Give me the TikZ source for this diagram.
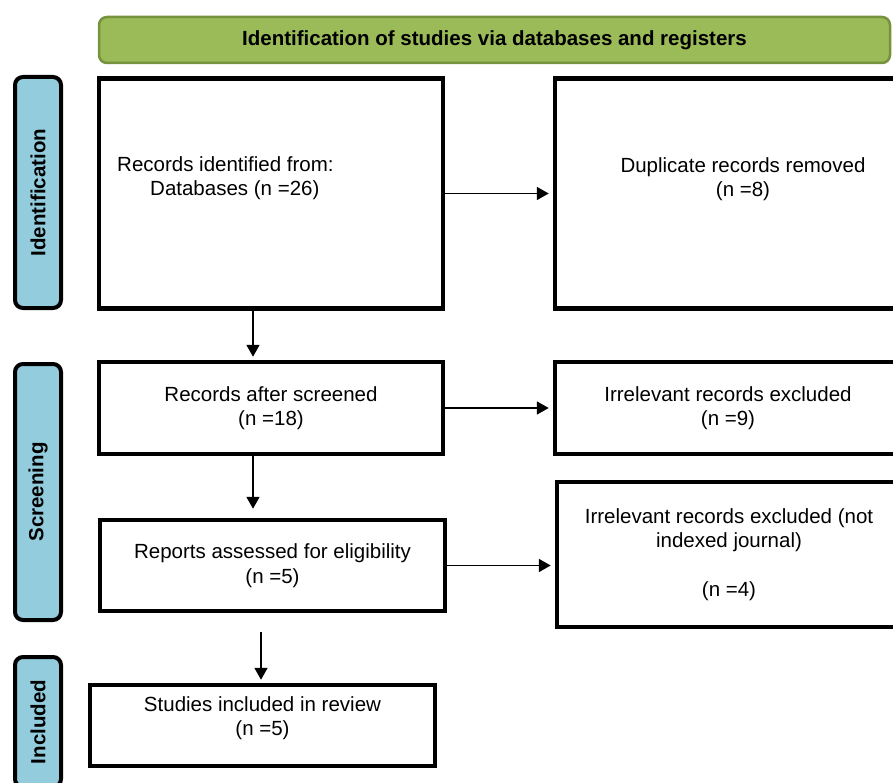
\documentclass[tikz,border=0pt]{standalone}
\usepackage{fontspec}
\setmainfont{Liberation Sans}
\usetikzlibrary{arrows.meta}

\definecolor{bannergreen}{HTML}{9BBB59}
\definecolor{bannerline}{HTML}{76923C}
\definecolor{phaseblue}{HTML}{93CDDD}

\begin{document}
\begin{tikzpicture}[x=1pt, y=-1pt,
    every node/.style={font=\fontsize{20.5}{24.5}\selectfont},
    box/.style={draw, line width=4.5pt, fill=white, inner sep=0pt},
    phase/.style={draw, line width=4pt, rounded corners=8pt, fill=phaseblue,
        inner sep=0pt, rotate=90, minimum height=46pt, font=\fontsize{20.5}{24.5}\selectfont\bfseries},
    flow/.style={line width=1.8pt, -{Triangle[length=12pt,width=13pt]}}]

    % Page size, matched to the provided image
    \useasboundingbox (0,0) rectangle (893,783);
    \clip (0,0) rectangle (893,783);

    % Banner across the top
    \node[draw=bannerline, line width=2.5pt, rounded corners=8pt, fill=bannergreen,
        minimum width=791pt, minimum height=46pt, font=\fontsize{20.5}{24.5}\selectfont\bfseries]
        (banner) at (494.5,40) {Identification of studies via databases and registers};

    % Phase labels on the left
    \node[phase, minimum width=231pt] (idphase) at (38,192.5) {Identification};
    \node[phase, minimum width=256pt] (scrphase) at (38,492) {Screening};
    \node[phase, minimum width=130pt] (incphase) at (38,722) {Included};

    % Boxes of the main flow
    \node[box, minimum width=344pt, minimum height=230pt] (records) at (271,193.5) {};
    \node[box, minimum width=344pt, minimum height=92pt, align=center] (screened) at (271,408)
        {Records after screened\\(n =18)};
    \node[box, minimum width=345pt, minimum height=91pt, align=center] (assessed) at (272.5,565.5)
        {Reports assessed for eligibility\\(n =5)};
    \node[box, minimum width=345pt, minimum height=81pt] (included) at (262.5,725.5) {};

    % Boxes of the excluded records
    \node[box, minimum width=376pt, minimum height=230pt] (duplicates) at (743,193.5) {};
    \node[box, minimum width=346pt, minimum height=92pt, align=center] (irrelevant) at (728,408)
        {Irrelevant records excluded\\(n =9)};
    \node[box, minimum width=344pt, minimum height=145pt, align=center] (notindexed) at (729,554.5)
        {Irrelevant records excluded (not\\indexed journal)\\[24pt](n =4)};

    % Texts that sit off the centre of their boxes
    \node[align=left, anchor=west, inner sep=0pt] (recordstext) at (117,178)
        {Records identified from:\\\hspace*{33pt}Databases (n =26)};
    \node[align=center] (duplicatestext) at (743,179) {Duplicate records removed\\(n =8)};
    \node[align=center] (includedtext) at (262.5,718) {Studies included in review\\(n =5)};

    % Arrows between the boxes
    \draw[flow, shorten >=4pt] (records) -- (duplicates);
    \draw[flow, shorten >=4pt] (screened) -- (irrelevant);
    \draw[flow, shorten >=4pt] (assessed.east) -- (assessed.east -| notindexed.west);
    \draw[flow, shorten >=3pt] ([xshift=-18pt]records.south) -- ([xshift=-18pt]screened.north);
    \draw[flow, shorten >=9pt] ([xshift=-18pt]screened.south) -- ([xshift=-19.5pt]assessed.north);
    \draw[flow, shorten >=3pt] ([xshift=-11.5pt,yshift=-19pt]assessed.south) -- ([xshift=-1.5pt]included.north);

\end{tikzpicture}
\end{document}
